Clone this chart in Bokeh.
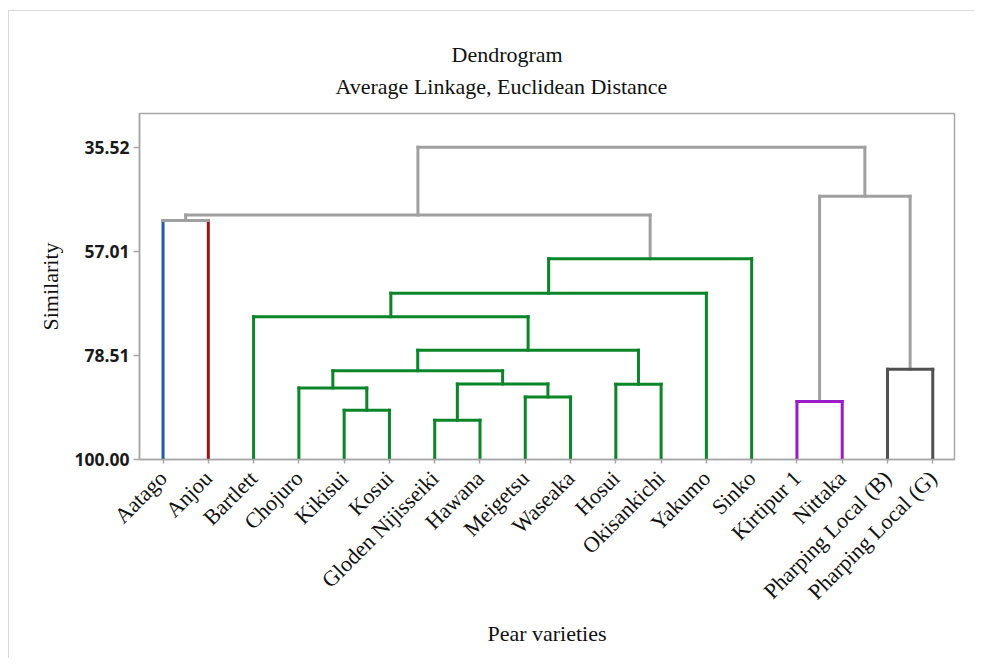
import math
from bokeh.plotting import figure
from bokeh.models import Range1d, FixedTicker, PrintfTickFormatter, Title, ColumnDataSource
from bokeh.embed import file_html
from bokeh.resources import INLINE

# ---- data -------------------------------------------------------------
varieties = ["Aatago", "Anjou", "Bartlett", "Chojuro", "Kikisui", "Kosui",
             "Gloden Nijisseiki", "Hawana", "Meigetsu", "Waseaka", "Hosui",
             "Okisankichi", "Yakumo", "Sinko", "Kirtipur 1", "Nittaka",
             "Pharping Local (B)", "Pharping Local (G)"]
leaf_cluster = [0, 1, 2, 2, 2, 2, 2, 2, 2, 2, 2, 2, 2, 2, 3, 3, 4, 4]
cluster_colors = ["#1B5EAB", "#9C1515", "#0A8528", "#9B1BC8", "#505050"]
link_color = "#A0A0A0"

# merges: node ids 0..17 are leaves, merge k creates node 18+k
merge_left = [4, 3, 6, 8, 20, 19, 10, 23, 2, 26, 27, 0, 29, 14, 16, 31, 30]
merge_right = [5, 18, 7, 9, 21, 22, 11, 24, 25, 12, 13, 1, 28, 15, 17, 32, 33]
merge_similarity = [89.83, 85.23, 91.90, 87.08, 84.40, 81.70, 84.47, 77.45,
                    70.55, 65.70, 58.54, 50.64, 49.50, 88.04, 81.37, 45.63, 35.52]
y_ticks = [35.52, 57.01, 78.51, 100.00]
title_text = "Dendrogram"
subtitle_text = "Average Linkage, Euclidean Distance"

# ---- build segments ----------------------------------------------------
n = len(varieties)
node_x = [float(i + 1) for i in range(n)]
node_y = [100.0] * n
node_cl = list(leaf_cluster)

x0, y0, x1, y1, col = [], [], [], [], []
hx0, hy0, hx1, hy1, hcol = [], [], [], [], []
for l, r, h in zip(merge_left, merge_right, merge_similarity):
    cl = node_cl[l] if (node_cl[l] is not None and node_cl[l] == node_cl[r]) else None
    mcolor = cluster_colors[cl] if cl is not None else link_color
    for c in (l, r):
        if cl is not None:
            vc = cluster_colors[cl]
        elif c < n:
            vc = cluster_colors[leaf_cluster[c]]
        else:
            vc = link_color
        x0.append(node_x[c]); y0.append(node_y[c]); x1.append(node_x[c]); y1.append(h); col.append(vc)
    hx0.append(node_x[l]); hy0.append(h); hx1.append(node_x[r]); hy1.append(h); hcol.append(mcolor)
    node_x.append((node_x[l] + node_x[r]) / 2.0)
    node_y.append(h)
    node_cl.append(cl)

vsrc = ColumnDataSource(dict(x0=x0, y0=y0, x1=x1, y1=y1, color=col))
hsrc = ColumnDataSource(dict(x0=hx0, y0=hy0, x1=hx1, y1=hy1, color=hcol))

# ---- figure -------------------------------------------------------------
p = figure(width=966, height=648, output_backend="svg", toolbar_location=None,
           x_range=Range1d(0.48, 18.48), y_range=Range1d(100.0, 28.57),
           min_border_left=130, min_border_right=21, min_border_top=102,
           min_border_bottom=200)
p.margin = (10, 0, 0, 8)
p.styles = {"border-left": "1px solid #D9D9D9", "border-top": "1px solid #D9D9D9"}

p.segment("x0", "y0", "x1", "y1", source=vsrc, line_color="color", line_width=3, line_cap="square")
p.segment("x0", "y0", "x1", "y1", source=hsrc, line_color="color", line_width=3, line_cap="square")

serif = "Liberation Serif"
p.add_layout(Title(text=subtitle_text, align="left", offset=196,
                   text_font=serif, text_font_size="22px", text_font_style="normal",
                   text_color="#111111", standoff=29), "above")
p.add_layout(Title(text=title_text, align="left", offset=312,
                   text_font=serif, text_font_size="22px", text_font_style="normal",
                   text_color="#111111", standoff=-19), "above")

p.xgrid.visible = False
p.ygrid.visible = False
p.outline_line_color = "#A6A6A6"
p.outline_line_width = 1.5
p.background_fill_color = "white"
p.border_fill_color = "white"

xa = p.xaxis[0]
xa.ticker = FixedTicker(ticks=[i + 1 for i in range(n)])
xa.major_label_overrides = {i + 1: name for i, name in enumerate(varieties)}
xa.major_label_orientation = math.pi / 4
xa.major_label_text_font = serif
xa.major_label_text_font_size = "22px"
xa.major_label_text_color = "#111111"
xa.major_label_standoff = 11
xa.axis_label = "Pear varieties"
xa.axis_label_text_font = serif
xa.axis_label_text_font_size = "22px"
xa.axis_label_text_font_style = "normal"
xa.axis_label_text_color = "#111111"
xa.axis_label_standoff = 5
xa.axis_line_color = "#A6A6A6"
xa.axis_line_width = 1.5
xa.major_tick_line_color = "#A6A6A6"
xa.major_tick_line_width = 1.5
xa.major_tick_out = 4
xa.major_tick_in = 0
xa.minor_tick_line_color = None

ya = p.yaxis[0]
ya.ticker = FixedTicker(ticks=y_ticks)
ya.formatter = PrintfTickFormatter(format="%.2f")
ya.major_label_text_font = "Noto Sans"
ya.major_label_text_font_size = "17.5px"
ya.major_label_text_font_style = "bold"
ya.major_label_text_color = "#1a1a1a"
ya.major_label_standoff = 4
ya.axis_label = "Similarity"
ya.axis_label_text_font = serif
ya.axis_label_text_font_size = "22px"
ya.axis_label_text_font_style = "normal"
ya.axis_label_text_color = "#111111"
ya.axis_label_standoff = 9
ya.axis_line_color = "#A6A6A6"
ya.axis_line_width = 1.5
ya.major_tick_line_color = "#A6A6A6"
ya.major_tick_line_width = 1.5
ya.major_tick_out = 6
ya.major_tick_in = 0
ya.minor_tick_line_color = None

open("out.html", "w").write(file_html(p, INLINE))
